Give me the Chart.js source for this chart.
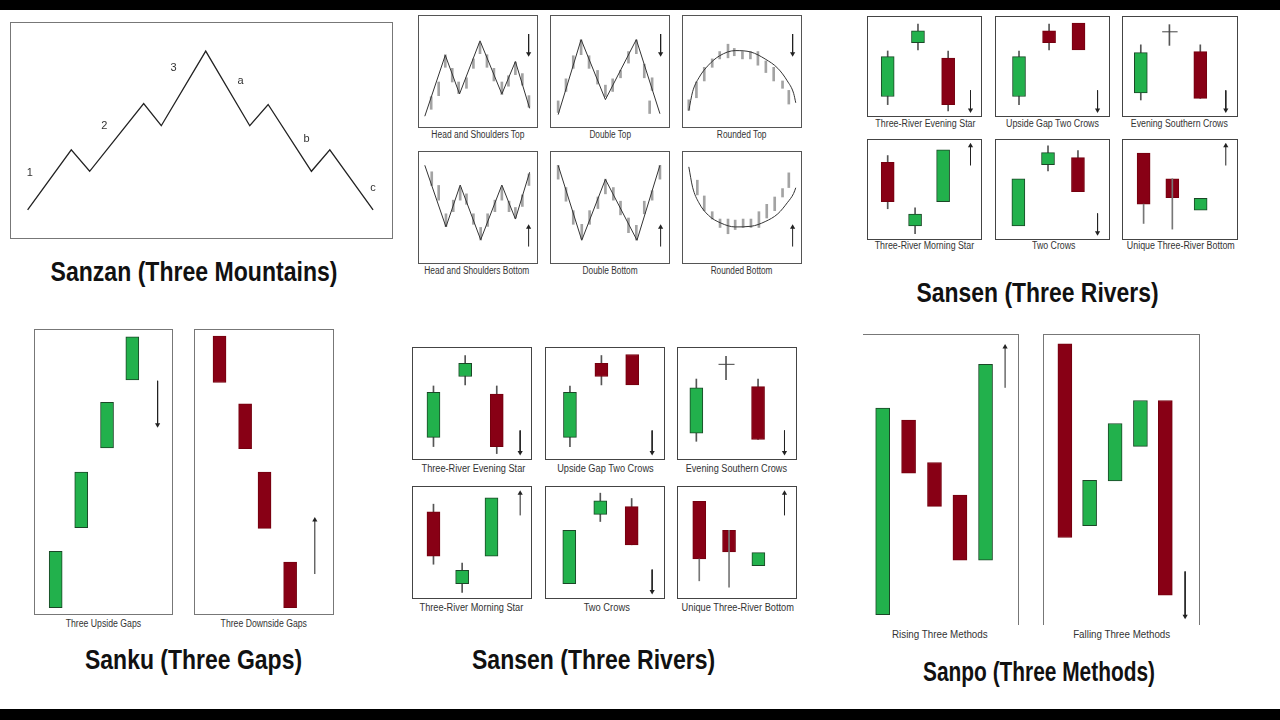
<!DOCTYPE html>
<html>
<head>
<meta charset="utf-8">
<script src="https://cdn.jsdelivr.net/npm/chart.js@4.4.1/dist/chart.umd.min.js"></script>
<style>
  html,body{margin:0;padding:0;background:#fff;}
  #stage{position:relative;width:1280px;height:720px;overflow:hidden;background:#fff;}
  .bar{position:absolute;left:0;width:1280px;background:#000;}
  .box{position:absolute;box-sizing:border-box;border:1px solid #666;}
  canvas.c{position:absolute;}
  .cap{position:absolute;font-family:"Liberation Sans",Arial,sans-serif;font-size:10px;color:#333;white-space:nowrap;transform-origin:50% 50%;}
  .title{position:absolute;font-family:"Liberation Sans Narrow","Arial Narrow","Liberation Sans",Arial,sans-serif;font-weight:bold;font-size:27px;color:#111;white-space:nowrap;transform-origin:50% 50%;}
</style>
</head>
<body>
<div id="stage">
  <div class="bar" style="top:0;height:10px"></div>
  <div class="bar" style="top:709px;height:11px"></div>
</div>
<script>
// ---------------- DATA ----------------
// Sanzan (Three Mountains) line
const SANZAN_X = [4.6, 16.0, 20.8, 34.9, 39.5, 51.1, 62.6, 67.4, 78.7, 83.5, 94.8];
const SANZAN_Y = [13.4, 41.1, 31.2, 62.4, 52.2, 86.6, 52.2, 62.0, 31.2, 41.1, 13.4];
const SANZAN_LABELS = ['1', '2', '3', 'a', 'b', 'c'];
const SANZAN_LABEL_X = [5.2, 24.6, 42.7, 60.2, 77.4, 94.8];
const SANZAN_LABEL_Y = [30.4, 52.3, 79.0, 72.8, 46.0, 23.5];

// Reversal patterns: price path + bar ticks
const HST_LINE_X = [2.5, 20.8, 33.5, 51.8, 71.3, 83.4, 96.1];
const HST_LINE_Y = [7.4, 65.5, 28.6, 79.2, 28.6, 59.5, 14.9];
const HST_TICK_X = [8.2, 14.9, 20.8, 27.0, 32.7, 39.7, 45.9, 51.8, 58.0, 64.2, 71.3, 77.2, 83.4, 89.6, 95.5];
const HST_TICK = [[14,26],[27,40],[54,66],[40,53],[29,40],[34,44],[53,62],[67,77],[54,66],[41,53],[28,40],[36,46],[47,59],[37,48],[16,27]];

const DT_LINE_X = [3.7, 24.2, 45.9, 73.5, 94.6];
const DT_LINE_Y = [8.9, 80.4, 23.2, 80.4, 9.8];
const DT_TICK_X = [3.7, 10.7, 17.2, 24.2, 31.3, 38.9, 45.9, 52.4, 59.4, 66.5, 73.5, 80.6, 87.6, 85.4];
const DT_TICK = [[11,22],[31,43],[53,65],[66,80],[53,65],[38,51],[26,37],[31,43],[44,51],[58,69],[67,80],[44,57],[32,44],[10,22]];

const RT_LINE_X = [2.5, 5.9, 11.5, 20.0, 29.9, 43.9, 58.0, 70.7, 82.0, 90.4, 96.1, 98.0];
const RT_LINE_Y = [12.8, 30.7, 44.0, 56.0, 64.9, 69.9, 68.5, 61.9, 53.0, 41.1, 29.2, 20.2];
const RT_TICK_X = [2.5, 9.3, 16.3, 23.4, 30.1, 37.5, 43.1, 50.4, 57.5, 64.2, 71.3, 78.3, 86.2, 91.8];
const RT_TICK = [[13,23],[25,40],[41,54],[54,62],[62,69],[63,76],[65,72],[62,69],[62,69],[56,69],[49,60],[41,54],[34,41],[19,32]];

const HSB_LINE_X = [2.5, 21.4, 34.1, 52.4, 71.3, 83.4, 96.1];
const HSB_LINE_Y = [90.2, 31.5, 71.4, 19.3, 71.4, 39.0, 83.6];
const HSB_TICK_X = [8.7, 14.9, 21.4, 27.9, 34.1, 39.7, 45.9, 52.4, 58.6, 65.1, 71.3, 77.7, 83.4, 89.6, 95.5];
const HSB_TICK = [[71,84],[57,71],[32,44],[46,57],[57,69],[53,63],[34,44],[19,31],[32,44],[46,57],[57,69],[46,56],[40,50],[51,62],[71,82]];

const DB_LINE_X = [3.7, 24.8, 45.9, 74.1, 94.6];
const DB_LINE_Y = [90.2, 18.8, 76.8, 18.8, 90.2];
const DB_TICK_X = [3.7, 10.7, 17.2, 24.8, 31.8, 39.2, 45.9, 53.0, 59.4, 66.5, 73.5, 80.6, 87.6, 94.6];
const DB_TICK = [[77,90],[56,69],[34,47],[20,34],[34,47],[49,60],[63,77],[57,69],[43,56],[26,40],[19,33],[44,56],[57,66],[77,90]];

const RB_LINE_X = [2.5, 5.9, 11.5, 20.0, 31.3, 43.9, 58.0, 70.7, 82.0, 90.4, 96.1, 98.0];
const RB_LINE_Y = [88.7, 69.3, 54.5, 42.6, 35.1, 31.5, 32.1, 36.6, 44.0, 54.5, 63.4, 68.8];
const RB_TICK_X = [10.1, 16.3, 23.4, 30.4, 37.5, 43.9, 51.0, 58.0, 65.1, 72.1, 79.2, 86.2, 91.8];
const RB_TICK = [[62,76],[47,61],[39,46],[31,39],[25,39],[29,38],[31,39],[31,39],[31,46],[40,53],[47,60],[60,68],[69,83]];

// Sansen (Three Rivers) candles: x, body [low, high], wick [low, high], up = green
const ES_X = [15.6, 43.9, 72.1];
const ES_BODY = [[17.7,60.7],[75.7,88.3],[9.0,59.0]];
const ES_WICK = [[9.0,66.7],[67.7,95.7],[2.3,66.7]];
const ES_UP = [true, true, false];

const UG_X = [18.7, 46.8, 74.3];
const UG_BODY = [[17.7,60.7],[75.7,88.3],[67.7,96.7]];
const UG_WICK = [[9.0,66.7],[67.7,95.7],null];
const UG_UP = [true, false, false];

const ESC_X = [13.7, 40.2, 68.8];
const ESC_BODY = [[21.7,65.0],null,[15.7,66.0]];
const ESC_WICK = [[14.0,73.3],[72.7,95.0],[15.7,73.3]];
const ESC_UP = [true, true, false];
const ESC_DOJI_X = [33.5, 47.8];
const ESC_DOJI_Y = [87.3, 87.3];

const MS_X = [15.6, 41.2, 67.4];
const MS_BODY = [[37.0,79.1],[10.8,23.6],[37.0,92.6]];
const MS_WICK = [[29.3,86.5],[2.4,30.3],null];
const MS_UP = [false, true, true];

const TC_X = [18.1, 45.8, 73.8];
const TC_BODY = [[10.8,61.6],[76.8,89.6],[47.8,84.2]];
const TC_WICK = [null,[70.0,97.0],[47.8,91.9]];
const TC_UP = [true, true, false];

const UTB_X = [16.3, 42.9, 69.1];
const UTB_BODY = [[34.3,89.2],[41.1,61.6],[27.9,40.4]];
const UTB_WICK = [[13.5,34.3],[7.4,61.6],null];
const UTB_UP = [false, false, true];

// Sanku (Three Gaps)
const UPGAP_X = [13.5, 33.0, 52.7, 72.0];
const UPGAP_BODY = [[1.2,21.5],[30.0,50.0],[58.7,75.1],[83.1,98.6]];
const DOWNGAP_X = [16.3, 35.7, 50.4, 69.8];
const DOWNGAP_BODY = [[82.2,98.9],[58.4,74.5],[29.7,50.0],[1.2,17.6]];

// Sanpo (Three Methods)
const RISING_X = [10.6, 28.1, 45.6, 62.8, 80.1];
const RISING_BODY = [[2.2,75.2],[52.2,71.0],[40.5,56.0],[21.5,44.5],[21.5,90.7]];
const RISING_UP = [true, false, false, false, true];
const FALLING_X = [12.0, 28.6, 45.7, 62.7, 79.4];
const FALLING_BODY = [[29.5,97.9],[33.7,49.7],[49.5,69.8],[61.7,77.9],[9.1,77.9]];
const FALLING_UP = [false, true, true, true, false];

// Arrows: [x, from, to]
const ARROW_REV_DOWN = [95.2, 85.7, 67.0];
const ARROW_REV_UP = [95.2, 12.8, 31.3];
const ARROW_ES = [93.0, 24.3, 3.3];
const ARROW_UG = [92.1, 24.3, 3.3];
const ARROW_ESC = [92.4, 24.3, 3.3];
const ARROW_MS = [93.0, 75.8, 97.0];
const ARROW_TC = [92.1, 24.2, 3.4];
const ARROW_UTB = [92.4, 75.8, 97.0];
const ARROW_UPGAP = [91.3, 82.8, 67.0];
const ARROW_DOWNGAP = [88.5, 13.3, 32.7];
const ARROW_RISING = [93.3, 82.4, 96.8];
const ARROW_FALLING = [92.7, 17.5, 1.7];

// ---------------- HELPERS ----------------
const GREEN = '#22b14c', GREEN_EDGE = '#1b4727', RED = '#880015', RED_EDGE = '#74000f';
const stage = document.getElementById('stage');

function addBox(l, t, w, h, sides, color) {
  const d = document.createElement('div');
  d.className = 'box';
  d.style.left = l + 'px'; d.style.top = t + 'px'; d.style.width = w + 'px'; d.style.height = h + 'px';
  d.style.borderColor = color || '#666';
  if (sides) {
    ['Top','Right','Bottom','Left'].forEach(s => { if (!sides.includes(s[0])) d.style['border' + s + 'Style'] = 'none'; });
  }
  stage.appendChild(d);
}
function addCanvas(l, t, w, h) {
  const c = document.createElement('canvas');
  c.className = 'c';
  c.width = w; c.height = h;
  c.style.left = l + 'px'; c.style.top = t + 'px'; c.style.width = w + 'px'; c.style.height = h + 'px';
  stage.appendChild(c);
  return c;
}
function fitText(d, cls, text, cx, cy, targetW) {
  d.className = cls;
  d.textContent = text;
  stage.appendChild(d);
  const w = d.offsetWidth, h = d.offsetHeight;
  d.style.left = (cx - w / 2) + 'px';
  d.style.top = (cy - h / 2) + 'px';
  d.style.transform = 'scaleX(' + (targetW / w).toFixed(3) + ')';
}
function addCap(text, cx, cy, targetW) { fitText(document.createElement('div'), 'cap', text, cx, cy, targetW); }
function addTitle(text, cx, cy, targetW) { fitText(document.createElement('div'), 'title', text, cx, cy, targetW); }

function bodies(xs, ranges, ups, thick) {
  const pts = [], bg = [], bc = [];
  xs.forEach((x, i) => {
    if (ranges[i]) { pts.push({x: x, y: ranges[i]}); bg.push(ups[i] ? GREEN : RED); bc.push(ups[i] ? GREEN_EDGE : RED_EDGE); }
  });
  return {type: 'bar', data: pts, backgroundColor: bg, borderColor: bc, borderWidth: 1, borderSkipped: false,
          barThickness: thick, grouped: false, order: 1};
}
function ticks(xs, ranges, color, thick, order) {
  const pts = [];
  xs.forEach((x, i) => { if (ranges[i]) pts.push({x: x, y: ranges[i]}); });
  return {type: 'bar', data: pts, backgroundColor: color, borderWidth: 0, barThickness: thick, grouped: false,
          order: order === undefined ? 2 : order};
}
function line(xs, ys, color, width, curved) {
  return {type: 'line', data: xs.map((x, i) => ({x: x, y: ys[i]})), borderColor: color, borderWidth: width,
          pointRadius: 0, fill: false, tension: curved ? 0.4 : 0, cubicInterpolationMode: curved ? 'monotone' : 'default', order: 0};
}
function arrow(a) {
  const down = a[2] < a[1];
  return {type: 'line', data: [{x: a[0], y: a[1]}, {x: a[0], y: a[2]}], borderColor: '#222', borderWidth: 1,
          pointRadius: [0, 3], pointStyle: 'triangle', pointRotation: down ? 180 : 0,
          pointBackgroundColor: '#222', pointBorderColor: '#222', pointBorderWidth: 0, order: 0};
}
function textPlugin(xs, ys, texts) {
  return {id: 'txtlabels', afterDatasetsDraw(c) {
    const ctx = c.ctx; ctx.save();
    ctx.font = '11px "Liberation Sans", Arial, sans-serif';
    ctx.fillStyle = '#333'; ctx.textAlign = 'center'; ctx.textBaseline = 'middle';
    texts.forEach((t, i) => ctx.fillText(t, c.scales.x.getPixelForValue(xs[i]), c.scales.y.getPixelForValue(ys[i])));
    ctx.restore();
  }};
}
function chart(canvas, datasets, extra) {
  return new Chart(canvas, {
    type: 'bar',
    data: {datasets: datasets},
    options: {
      responsive: false, animation: false, events: [], devicePixelRatio: 1,
      layout: {padding: 0},
      plugins: {legend: {display: false}, tooltip: {enabled: false}, title: {display: false}},
      scales: {
        x: {type: 'linear', min: 0, max: 100, display: false, offset: false},
        y: {type: 'linear', min: 0, max: 100, display: false}
      }
    },
    plugins: extra ? [extra] : []
  });
}
function panel(l, t, w, h, datasets, extra, sides, color) {
  addBox(l, t, w, h, sides, color);
  chart(addCanvas(l, t, w, h), datasets, extra);
}

// ---------------- SANZAN ----------------
panel(10, 22, 383, 217, [line(SANZAN_X, SANZAN_Y, '#222', 1.3, false)],
      textPlugin(SANZAN_LABEL_X, SANZAN_LABEL_Y, SANZAN_LABELS), null, '#777');

// ---------------- REVERSALS ----------------
const TICK_C = '#a3a3a3';
const revCols = [418, 550, 682];
function rev(l, t, lx, ly, tx, tr, arr, curved) {
  panel(l, t, 120, 113, [line(lx, ly, '#333', 1, curved), ticks(tx, tr, TICK_C, 2), arrow(arr)], null, null, '#555');
}
rev(revCols[0], 15, HST_LINE_X, HST_LINE_Y, HST_TICK_X, HST_TICK, ARROW_REV_DOWN, false);
rev(revCols[1], 15, DT_LINE_X, DT_LINE_Y, DT_TICK_X, DT_TICK, ARROW_REV_DOWN, false);
rev(revCols[2], 15, RT_LINE_X, RT_LINE_Y, RT_TICK_X, RT_TICK, ARROW_REV_DOWN, true);
rev(revCols[0], 151, HSB_LINE_X, HSB_LINE_Y, HSB_TICK_X, HSB_TICK, ARROW_REV_UP, false);
rev(revCols[1], 151, DB_LINE_X, DB_LINE_Y, DB_TICK_X, DB_TICK, ARROW_REV_UP, false);
rev(revCols[2], 151, RB_LINE_X, RB_LINE_Y, RB_TICK_X, RB_TICK, ARROW_REV_UP, true);
addCap('Head and Shoulders Top', 477.7, 134, 93.3);
addCap('Double Top', 609.7, 134, 41.3);
addCap('Rounded Top', 741.7, 134, 49.3);
addCap('Head and Shoulders Bottom', 477.3, 270, 105.3);
addCap('Double Bottom', 609.5, 270, 55);
addCap('Rounded Bottom', 741.8, 270, 61.7);

// ---------------- SANSEN (two copies) ----------------
function sansenSet(cols, rows, w, h) {
  const sets = [
    [ES_X, ES_BODY, ES_WICK, ES_UP, ARROW_ES, null, false],
    [UG_X, UG_BODY, UG_WICK, UG_UP, ARROW_UG, null, false],
    [ESC_X, ESC_BODY, ESC_WICK, ESC_UP, ARROW_ESC, [ESC_DOJI_X, ESC_DOJI_Y], false],
    [MS_X, MS_BODY, MS_WICK, MS_UP, ARROW_MS, null, false],
    [TC_X, TC_BODY, TC_WICK, TC_UP, ARROW_TC, null, false],
    [UTB_X, UTB_BODY, UTB_WICK, UTB_UP, ARROW_UTB, null, true]
  ];
  sets.forEach((s, i) => {
    const ds = [bodies(s[0], s[1], s[3], 13), ticks(s[0], s[2], s[6] ? '#777' : '#555', 1, s[6] ? 0 : 2), arrow(s[4])];
    if (s[5]) ds.push(line(s[5][0], s[5][1], '#444', 1, false));
    panel(cols[i % 3], rows[Math.floor(i / 3)], w[i % 3], h, ds, null, null, '#444');
  });
}
sansenSet([867, 995, 1122], [16, 139], [115, 115, 116], 101);
sansenSet([412, 545, 677], [347, 486], [120, 120, 120], 113);

addCap('Three-River Evening Star', 925.5, 123, 100.3);
addCap('Upside Gap Two Crows', 1052.2, 123, 93);
addCap('Evening Southern Crows', 1179.3, 123, 97.3);
addCap('Three-River Morning Star', 924.5, 245.5, 99.7);
addCap('Two Crows', 1053.8, 245.5, 43);
addCap('Unique Three-River Bottom', 1180.8, 245.5, 108.3);

addCap('Three-River Evening Star', 473.7, 468, 104);
addCap('Upside Gap Two Crows', 605, 468, 96.7);
addCap('Evening Southern Crows', 736.8, 468, 101.7);
addCap('Three-River Morning Star', 471.3, 607, 104);
addCap('Two Crows', 606.5, 607, 45.7);
addCap('Unique Three-River Bottom', 738, 607, 112.7);

// ---------------- SANKU ----------------
panel(34, 329, 139, 286, [bodies(UPGAP_X, UPGAP_BODY, [true, true, true, true], 13), arrow(ARROW_UPGAP)], null, null, '#777');
panel(194, 329, 140, 286, [bodies(DOWNGAP_X, DOWNGAP_BODY, [false, false, false, false], 13), arrow(ARROW_DOWNGAP)], null, null, '#777');
addCap('Three Upside Gaps', 103.8, 623, 75.7);
addCap('Three Downside Gaps', 264, 623, 86.7);

// ---------------- SANPO ----------------
panel(863, 334, 156, 291, [bodies(RISING_X, RISING_BODY, RISING_UP, 14), arrow(ARROW_RISING)], null, 'TR', '#777');
panel(1043, 334, 157, 291, [bodies(FALLING_X, FALLING_BODY, FALLING_UP, 14), arrow(ARROW_FALLING)], null, 'TRL', '#777');
addCap('Rising Three Methods', 939.7, 634, 96);
addCap('Falling Three Methods', 1121, 634, 96.7);

// ---------------- TITLES ----------------
addTitle('Sanzan (Three Mountains)', 193.5, 272, 287);
addTitle('Sansen (Three Rivers)', 1037, 293, 242);
addTitle('Sanku (Three Gaps)', 193, 660, 217);
addTitle('Sansen (Three Rivers)', 593.5, 660, 243);
addTitle('Sanpo (Three Methods)', 1039, 672, 232);
</script>
</body>
</html>
